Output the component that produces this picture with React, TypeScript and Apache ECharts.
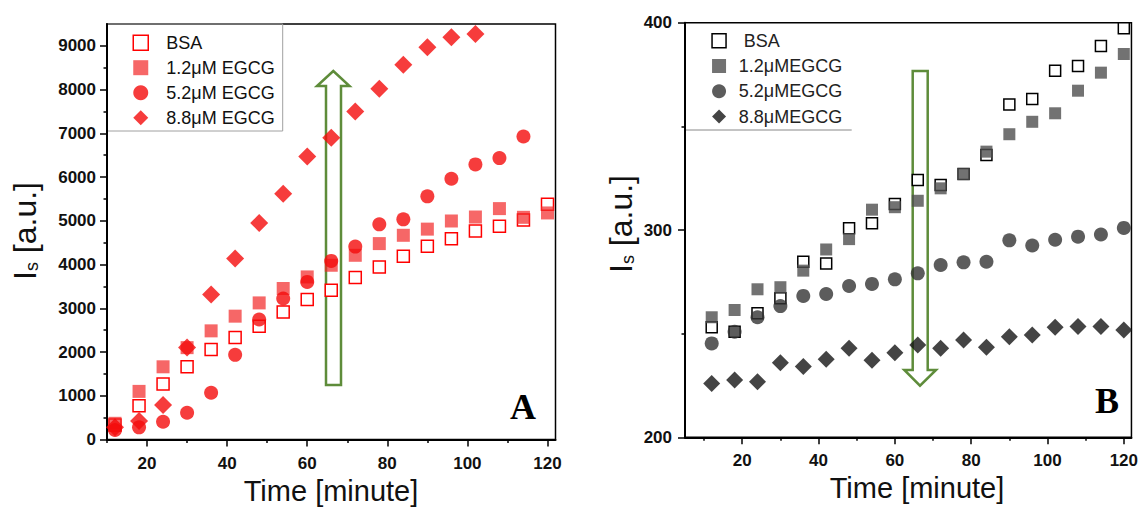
import React, { useEffect, useRef } from 'react';
import * as echarts from 'echarts';

// ---------- data ----------
const times = [12, 18, 24, 30, 36, 42, 48, 54, 60, 66, 72, 78, 84, 90, 96, 102, 108, 114, 120];

// Panel A (red)
const aBSA = [330, 772, 1267, 1662, 2059, 2333, 2591, 2918, 3201, 3413, 3703, 3946, 4189, 4418, 4590, 4770, 4874, 5020, 5380];
const aE12 = [370, 1100, 1662, 2100, 2484, 2820, 3123, 3452, 3717, 3984, 4212, 4479, 4669, 4810, 4996, 5087, 5279, 5080, 5180];
const aE52 = [217, 278, 407, 612, 1070, 1935, 2744, 3223, 3603, 4083, 4410, 4920, 5034, 5559, 5963, 6290, 6434, 6929];
const aE88 = [280, 422, 788, 2105, 3315, 4137, 4950, 5621, 6473, 6900, 7500, 8018, 8566, 8968, 9196, 9274];

// Panel B (grey)
const bBSA = [253.1, 250.9, 259.8, 267.1, 284.7, 283.9, 300.8, 303.3, 312.5, 324.1, 321.7, 327.0, 336.2, 360.6, 363.2, 376.8, 379.1, 388.7, 397.3];
const bE12 = [257.9, 261.4, 271.4, 272.4, 280.4, 290.6, 295.6, 309.8, 311.0, 314.1, 320.1, 327.0, 337.8, 346.2, 352.2, 356.3, 367.2, 375.9, 384.9];
const bE52 = [245.3, 250.9, 257.9, 263.3, 268.2, 269.1, 273.0, 274.0, 276.2, 279.1, 283.1, 284.4, 284.7, 295.0, 292.5, 295.3, 296.8, 297.8, 301.0];
const bE88 = [226.0, 227.6, 226.8, 236.0, 234.1, 237.6, 242.9, 237.2, 240.8, 244.5, 242.9, 246.9, 243.4, 248.5, 249.3, 253.1, 253.4, 253.4, 251.8];

// ticks
const xMajor = [20, 40, 60, 80, 100, 120];
const xMinor = [10, 30, 50, 70, 90, 110];
const aYMajor = [0, 1000, 2000, 3000, 4000, 5000, 6000, 7000, 8000, 9000];
const aYMinor = [500, 1500, 2500, 3500, 4500, 5500, 6500, 7500, 8500];
const bYMajor = [200, 300, 400];
const bYMinor = [250, 350];

// names
const namesA = ['BSA', '1.2μM EGCG', '5.2μM EGCG', '8.8μM EGCG'];
const namesB = [' BSA', '1.2μMEGCG', '5.2μMEGCG', '8.8μMEGCG'];
const xTitle = 'Time [minute]';

const FONT = 'Liberation Sans, Arial, sans-serif';
const GREEN = '#5e8c3a';

const pairs = (vals: number[]) => vals.map((v, i) => [times[i], v]);

function mainX(gridIndex: number, min: number, max: number) {
  return {
    type: 'value', gridIndex, min, max, position: 'bottom',
    axisLine: { show: true, onZero: false, lineStyle: { color: '#000', width: 2 } },
    axisTick: { show: true, length: 7, customValues: xMajor, lineStyle: { color: '#000', width: 1.5 } },
    axisLabel: {
      show: true, customValues: xMajor, margin: 15, color: '#111', fontFamily: FONT,
      fontWeight: 'bold', fontSize: 17, formatter: (v: number) => String(v),
    },
    splitLine: { show: false },
  };
}
function minorX(gridIndex: number, min: number, max: number) {
  return {
    type: 'value', gridIndex, min, max, position: 'bottom',
    axisLine: { show: false },
    axisTick: { show: true, length: 3.5, customValues: xMinor, lineStyle: { color: '#000', width: 1.5 } },
    axisLabel: { show: false }, splitLine: { show: false },
  };
}
function mainY(gridIndex: number, min: number, max: number, ticks: number[], margin: number) {
  return {
    type: 'value', gridIndex, min, max, position: 'left',
    axisLine: { show: true, onZero: false, lineStyle: { color: '#000', width: 2 } },
    axisTick: { show: true, length: 7, customValues: ticks, lineStyle: { color: '#000', width: 1.5 } },
    axisLabel: {
      show: true, customValues: ticks, margin, color: '#111', fontFamily: FONT,
      fontWeight: 'bold', fontSize: 17, formatter: (v: number) => String(v),
    },
    splitLine: { show: false },
  };
}
function minorY(gridIndex: number, min: number, max: number, ticks: number[]) {
  return {
    type: 'value', gridIndex, min, max, position: 'left', offset: 0,
    axisLine: { show: false },
    axisTick: { show: true, length: 3.5, customValues: ticks, lineStyle: { color: '#000', width: 1.5 } },
    axisLabel: { show: false }, splitLine: { show: false },
  };
}

function yTitle(x: number, y: number) {
  return {
    type: 'text', x, y, rotation: Math.PI / 2, z: 5,
    style: {
      text: '{i|I}{s|s}{i| [a.u.]}',
      align: 'center', verticalAlign: 'middle',
      rich: {
        i: { fontSize: 32, fontFamily: FONT, fill: '#111' },
        s: { fontSize: 18, fontFamily: FONT, fill: '#111', verticalAlign: 'bottom' },
      },
    },
  };
}

export default function App() {
  const ref = useRef<HTMLDivElement>(null);
  useEffect(() => {
    if (!ref.current) return;
    const chart = echarts.init(ref.current, undefined, { renderer: 'svg' });

    const redFill = 'rgba(242,40,40,0.88)';
    const option: any = {
      animation: false,
      backgroundColor: '#fff',
      grid: [
        { left: 107, top: 24, width: 448.5, height: 415.5, show: true, borderColor: '#000', borderWidth: 1.5, backgroundColor: 'transparent' },
        { left: 685, top: 22.7, width: 447.7, height: 414.6, show: true, borderColor: '#000', borderWidth: 1.5, backgroundColor: 'transparent' },
      ],
      xAxis: [mainX(0, 10, 122), minorX(0, 10, 122), mainX(1, 5, 122), minorX(1, 5, 122)],
      yAxis: [
        mainY(0, 0, 9500, aYMajor, 11), minorY(0, 0, 9500, aYMinor),
        mainY(1, 200, 400, bYMajor, 13), minorY(1, 200, 400, bYMinor),
      ],
      legend: [
        {
          orient: 'vertical', left: 132.5, top: 33.7, padding: 0,
          itemWidth: 15, itemHeight: 15, itemGap: 7, selectedMode: false, symbolKeepAspect: true,
          textStyle: { fontFamily: FONT, fontSize: 18, color: '#111', lineHeight: 18, padding: [0, 0, 0, 13] },
          data: [
            { name: namesA[0], itemStyle: { color: '#fff', borderColor: '#f00', borderWidth: 1.5 } },
            { name: namesA[1] }, { name: namesA[2] }, { name: namesA[3] },
          ],
        },
        {
          orient: 'vertical', left: 711.3, top: 31.7, padding: 0,
          itemWidth: 14, itemHeight: 14, itemGap: 7.3, selectedMode: false, symbolKeepAspect: true,
          textStyle: { fontFamily: FONT, fontSize: 18, color: '#222', lineHeight: 18, padding: [0, 0, 0, 7.7] },
          data: [
            { name: namesB[0], itemStyle: { color: '#fff', borderColor: '#000', borderWidth: 1.5 } },
            { name: namesB[1] }, { name: namesB[2] }, { name: namesB[3] },
          ],
        },
      ],
      series: [
        {
          name: namesA[0], type: 'scatter', xAxisIndex: 0, yAxisIndex: 0, symbol: 'rect', symbolSize: 12,
          itemStyle: { color: '#fff', borderColor: '#f00', borderWidth: 1.5, opacity: 1 }, data: pairs(aBSA),
        },
        {
          name: namesA[1], type: 'scatter', xAxisIndex: 0, yAxisIndex: 0, symbol: 'rect', symbolSize: 13,
          itemStyle: { color: redFill }, data: pairs(aE12),
        },
        {
          name: namesA[2], type: 'scatter', xAxisIndex: 0, yAxisIndex: 0, symbol: 'circle', symbolSize: 14,
          itemStyle: { color: '#f40b0b' }, data: pairs(aE52),
        },
        {
          name: namesA[3], type: 'scatter', xAxisIndex: 0, yAxisIndex: 0, symbol: 'diamond', symbolSize: 18,
          itemStyle: { color: '#f40b0b' }, data: pairs(aE88),
        },
        {
          name: namesB[0], type: 'scatter', xAxisIndex: 2, yAxisIndex: 2, symbol: 'rect', symbolSize: 11,
          itemStyle: { color: '#fff', borderColor: '#000', borderWidth: 1.5, opacity: 1 }, data: pairs(bBSA),
        },
        {
          name: namesB[1], type: 'scatter', xAxisIndex: 2, yAxisIndex: 2, symbol: 'rect', symbolSize: 12,
          itemStyle: { color: '#4f4f4f' }, data: pairs(bE12),
        },
        {
          name: namesB[2], type: 'scatter', xAxisIndex: 2, yAxisIndex: 2, symbol: 'circle', symbolSize: 14,
          itemStyle: { color: '#333' }, data: pairs(bE52),
        },
        {
          name: namesB[3], type: 'scatter', xAxisIndex: 2, yAxisIndex: 2, symbol: 'diamond', symbolSize: 17,
          itemStyle: { color: '#151515' }, data: pairs(bE88),
        },
      ],
      graphic: [
        // legend frames
        { type: 'rect', z: 0, shape: { x: 107, y: 24, width: 175.7, height: 107 }, style: { fill: 'none', stroke: '#a0a0a0', lineWidth: 1 } },
        { type: 'line', z: 0, shape: { x1: 685, y1: 130, x2: 851.7, y2: 130 }, style: { stroke: '#888', lineWidth: 1 } },
        // arrows
        {
          type: 'polygon', z: 0,
          shape: { points: [[326, 385], [326, 86], [317, 86], [333.3, 71], [349.5, 86], [341, 86], [341, 385]] },
          style: { fill: 'none', stroke: GREEN, lineWidth: 2.5 },
        },
        {
          type: 'polygon', z: 0,
          shape: { points: [[912.7, 71], [912.7, 370], [904.3, 370], [920, 385.7], [936, 370], [927.7, 370], [927.7, 71]] },
          style: { fill: 'none', stroke: GREEN, lineWidth: 2.5 },
        },
        // panel letters
        { type: 'text', x: 523, y: 407, style: { text: 'A', fontFamily: 'Liberation Serif, Times New Roman, serif', fontWeight: 'bold', fontSize: 36, fill: '#000', align: 'center', verticalAlign: 'middle' } },
        { type: 'text', x: 1107, y: 401, style: { text: 'B', fontFamily: 'Liberation Serif, Times New Roman, serif', fontWeight: 'bold', fontSize: 36, fill: '#000', align: 'center', verticalAlign: 'middle' } },
        // axis titles
        { type: 'text', x: 331, y: 491, style: { text: xTitle, fontFamily: FONT, fontSize: 29, fill: '#111', align: 'center', verticalAlign: 'middle' } },
        { type: 'text', x: 917, y: 488, style: { text: xTitle, fontFamily: FONT, fontSize: 29, fill: '#111', align: 'center', verticalAlign: 'middle' } },
        yTitle(25, 231),
        yTitle(621, 224),
      ],
    };
    chart.setOption(option);
    return () => chart.dispose();
  }, []);

  return (
    <div
      ref={ref}
      style={{ position: 'absolute', left: 0, top: 0, width: 1141, height: 511, background: '#fff' }}
    />
  );
}
